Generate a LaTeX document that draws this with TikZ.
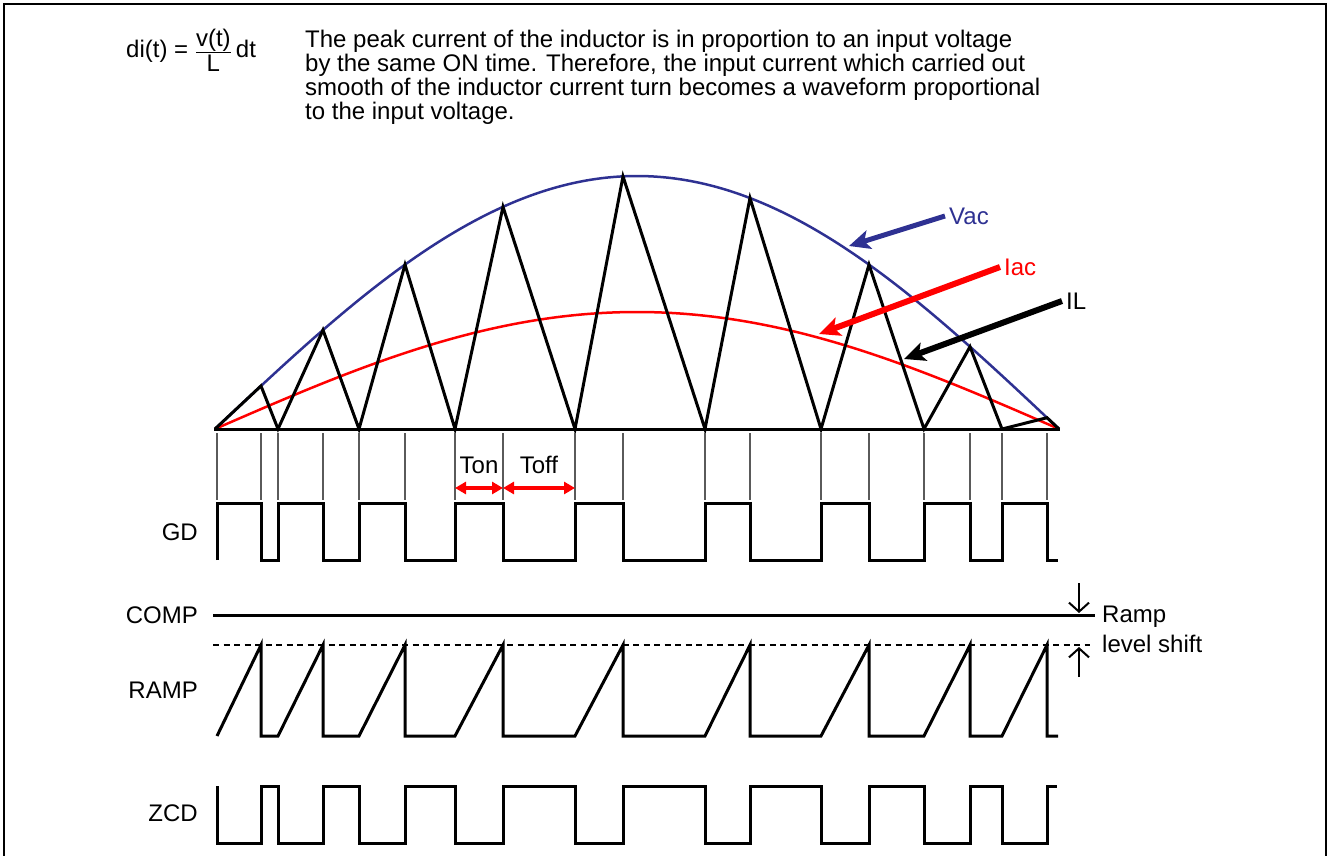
\documentclass[tikz,border=0pt]{standalone}
\usepackage{fontspec}
\setmainfont{Liberation Sans}
\usetikzlibrary{arrows.meta}
\definecolor{vacblue}{RGB}{46,49,146}
\definecolor{iacred}{RGB}{255,0,0}
\definecolor{tickgray}{RGB}{90,90,90}
\begin{document}
\begin{tikzpicture}[x=1pt,y=-1pt,
  declare function={vac(\t)=429-253*sin(((\t-215)/844)*180); iac(\t)=429-117*sin(((\t-215)/844)*180);},
  lbl/.style={font=\fontsize{24}{25}\selectfont, inner sep=0pt},
  wave/.style={line width=3pt, line join=miter},
  ticklinestyle/.style={line width=1.2pt, tickgray},
  bigarrow/.style={line width=6pt, -{Stealth[length=21pt,width=19pt,inset=5pt]}},
  tarrow/.style={line width=4.5pt, iacred, {Triangle[length=11pt,width=12pt]}-{Triangle[length=11pt,width=12pt]}},
  shiftarrow/.style={line width=2pt, -{Straight Barb[length=9pt,width=20pt,line width=2pt]}}
]
\useasboundingbox (0,0) rectangle (1328,856);
% frame
\draw[line width=2.5pt] (4,880) -- (4,4) -- (1326,4) -- (1326,880);

% formula and text
\node[lbl, anchor=base west] (formula) at (126,58) {di(t) = $\frac{\mbox{v(t)}}{\mbox{\rule{0pt}{19pt}L}}$\,dt};
\node[lbl, anchor=base west] (p1) at (305,48) {The peak current of the inductor is in proportion to an input voltage};
\node[lbl, anchor=base west] (p2) at (305,72) {by the same ON time. Therefore, the input current which carried out};
\node[lbl, anchor=base west] (p3) at (305,96) {smooth of the inductor current turn becomes a waveform proportional};
\node[lbl, anchor=base west] (p4) at (305,120) {to the input voltage.};

% curves
\draw[vacblue, line width=2.5pt] plot[domain=215:1059, samples=120, smooth] (\x,{vac(\x)});
\draw[iacred, line width=2.5pt] plot[domain=215:1059, samples=120, smooth] (\x,{iac(\x)});

% inductor current triangles
\draw[wave] (215,429) -- (261,{vac(261)}) -- (278,429) -- (323,{vac(323)}) -- (359,429)
  -- (405,{vac(405)}) -- (455,429) -- (503,{vac(503)}) -- (575,429) -- (623,{vac(623)})
  -- (705,429) -- (750,{vac(750)}) -- (821,429) -- (869,{vac(869)}) -- (924,429)
  -- (970,{vac(970)}) -- (1002,429) -- (1047,{vac(1047)}) -- (1059,429);
% axis
\draw[line width=3pt] (214,429) -- (1060,429);

% tick lines
\foreach \t in {217,261,278,323,359,405,455,503,575,623,705,750,821,869,924,970,1002,1047}
  \draw[ticklinestyle] (\t,433) -- (\t,500);

% labels with arrows
\node[lbl, anchor=west, text=vacblue, inner sep=4pt] (vacl) at (945,216) {Vac};
\node[lbl, anchor=west, text=iacred, inner sep=4pt] (iacl) at (1000,267) {Iac};
\node[lbl, anchor=west, inner sep=4pt] (ill) at (1062,301) {IL};
\coordinate (vactip) at (849,246);
\coordinate (iactip) at (819,334);
\coordinate (iltip) at (904,359);
\draw[bigarrow, vacblue, line width=5pt] (vacl.west) -- (vactip);
\draw[bigarrow, iacred] (iacl.west) -- (iactip);
\draw[bigarrow, black] (ill.west) -- (iltip);

% Ton / Toff
\node[lbl] (ton) at (479,465) {Ton};
\node[lbl] (toff) at (539,465) {Toff};
\coordinate (tona) at (455,488);
\coordinate (tonb) at (503,488);
\coordinate (toffb) at (575,488);
\draw[tarrow] (tona) -- (tonb);
\draw[tarrow] (tonb) -- (toffb);

% signal labels
\node[lbl, anchor=east] (gd) at (198,532) {GD};
\node[lbl, anchor=east] (comp) at (198,615) {COMP};
\node[lbl, anchor=east] (ramp) at (198,690) {RAMP};
\node[lbl, anchor=east] (zcd) at (198,813) {ZCD};

% GD
\draw[wave] (217,560)
  \foreach \a/\b in {217/261,278/323,359/405,455/503,575/623,705/750,821/869,924/970,1002/1047}
  { -- (\a,560) -- (\a,503) -- (\b,503) -- (\b,560) } -- (1058,560);

% COMP and level
\draw[line width=3pt] (213,615) -- (1095,615);
\draw[line width=1.5pt, dash pattern=on 6pt off 4.5pt] (213,645) -- (1090,645);
\coordinate (sa1) at (1079,583);
\coordinate (sb1) at (1079,613);
\coordinate (sa2) at (1079,677);
\coordinate (sb2) at (1079,647);
\draw[shiftarrow] (sa1) -- (sb1);
\draw[shiftarrow] (sa2) -- (sb2);
\node[lbl, anchor=base west] (rampt) at (1102,622) {Ramp};
\node[lbl, anchor=base west] (shiftt) at (1102,652) {level shift};

% RAMP
\draw[wave] (217,736)
  \foreach \a/\b in {217/261,278/323,359/405,455/503,575/623,705/750,821/869,924/970,1002/1047}
  { -- (\a,736) -- (\b,645) -- (\b,736) } -- (1058,736);

% ZCD
\draw[wave] (217,786)
  \foreach \a/\b in {217/261,278/323,359/405,455/503,575/623,705/750,821/869,924/970,1002/1047}
  { -- (\a,786) -- (\a,843) -- (\b,843) -- (\b,786) } -- (1057,786);
\end{tikzpicture}
\end{document}
